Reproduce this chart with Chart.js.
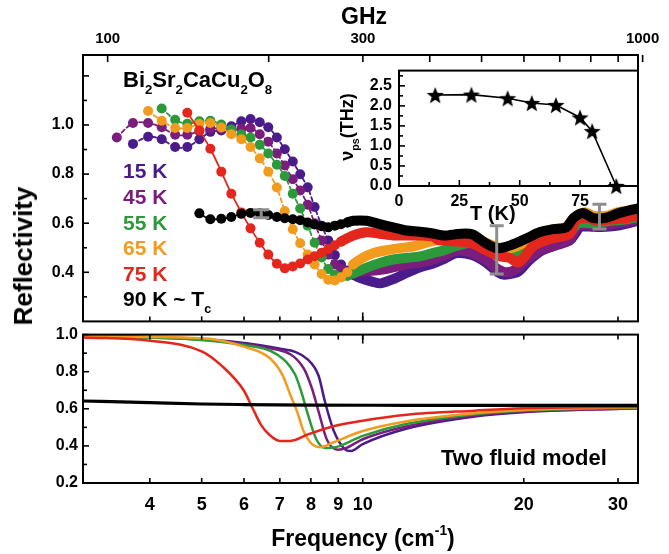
<!DOCTYPE html>
<html lang="en">
<head>
<meta charset="UTF-8">
<title>Bi2Sr2CaCu2O8 THz reflectivity</title>
<script src="https://cdn.jsdelivr.net/npm/chart.js"></script>
<style>
    body { margin: 0; background: #fff; }
    #fig { position: relative; width: 669px; height: 554px; overflow: hidden;
           font-family: 'Liberation Sans', Arial, sans-serif; font-weight: bold; color: #000; }
    #fig canvas { position: absolute; }
    .t { position: absolute; white-space: nowrap; line-height: 1; }
    .sb { font-size: 60%; position: relative; top: 0.55em; }
    .sp { font-size: 60%; position: relative; top: -0.8em; }
</style>
</head>
<body>
<div id="fig">
    <canvas id="top" width="669" height="340" style="left:0;top:0"></canvas>
    <canvas id="bottom" width="669" height="234" style="left:0;top:320px"></canvas>
    <canvas id="inset" width="339" height="161" style="left:330px;top:54px"></canvas>

    <div class="t" style="left:364px;top:5px;font-size:23px;transform:translateX(-50%)">GHz</div>
    <div id="ghzLabels"></div>
    <div class="t" style="left:23px;top:256px;font-size:26px;transform:translate(-50%,-50%) rotate(-90deg)">Reflectivity</div>
    <div class="t" style="left:123px;top:69px;font-size:22px">Bi<span class="sb">2</span>Sr<span class="sb">2</span>CaCu<span class="sb">2</span>O<span class="sb">8</span></div>
    <div class="t" style="left:123px;top:160px;font-size:21px;color:#4a1b8a">15 K</div>
    <div class="t" style="left:123px;top:186px;font-size:21px;color:#7b1d7d">45 K</div>
    <div class="t" style="left:123px;top:212px;font-size:21px;color:#2c9a3a">55 K</div>
    <div class="t" style="left:123px;top:237px;font-size:21px;color:#f39b1d">65 K</div>
    <div class="t" style="left:123px;top:263px;font-size:21px;color:#e3271c">75 K</div>
    <div class="t" style="left:123px;top:288px;font-size:21px">90 K ~ T<span class="sb">c</span></div>
    <div class="t" style="left:347px;top:127px;font-size:18px;transform:translate(-50%,-50%) rotate(-90deg)">&nu;<span class="sb">ps</span>(THz)</div>
    <div class="t" style="left:470px;top:203px;font-size:20px">T (K)</div>
    <div class="t" style="left:441px;top:447px;font-size:22px">Two fluid model</div>
    <div class="t" style="left:363px;top:527px;font-size:23px;transform:translateX(-50%)">Frequency (cm<span class="sp">-1</span>)</div>
</div>

<script>
    // ---- measured reflectivity (frequency in cm^-1) ----
    const f15 = [3.72, 3.97, 4.21, 4.46, 4.70, 4.95, 5.19, 5.44, 5.68, 5.93, 6.17, 6.42, 6.66, 6.91, 7.15, 7.40, 7.64, 7.89, 8.13, 8.38, 8.62, 8.87, 9.11, 9.36, 9.60,
                 9.87, 10.45, 10.8, 11.4, 12.1, 12.8, 13.5, 14.2, 15.0, 16.0, 17.0, 17.9, 18.4, 19.1, 19.6, 20.5, 21.7, 23.0, 24.4, 25.0, 25.5, 27.0, 28.5, 30.0, 31.5, 32.7];
    const r15 = [0.923, 0.952, 0.942, 0.910, 0.910, 0.942, 0.972, 0.978, 0.995, 1.015, 1.024, 1.011, 0.991, 0.949, 0.901, 0.851, 0.799, 0.746, 0.666, 0.59, 0.53, 0.47, 0.432, 0.407, 0.39,
                 0.378, 0.361, 0.355, 0.372, 0.398, 0.42, 0.435, 0.455, 0.478, 0.47, 0.44, 0.40, 0.39, 0.395, 0.405, 0.45, 0.49, 0.51, 0.53, 0.56, 0.585, 0.585, 0.585, 0.59, 0.60, 0.61];

    const f45 = [3.47, 3.72, 3.97, 4.21, 4.46, 4.70, 4.95, 5.19, 5.44, 5.68, 5.93, 6.17, 6.42, 6.66, 6.91, 7.15, 7.40, 7.64, 7.89, 8.13, 8.38, 8.62, 8.87, 9.11, 9.36, 9.60,
                 10.2, 10.8, 11.4, 12.1, 12.8, 13.5, 14.2, 15.0, 16.0, 17.0, 17.9, 18.5, 19.3, 20.2, 21.5, 23.0, 24.4, 25.3, 27.0, 29.0, 31.0, 32.7];
    const r45 = [0.949, 1.008, 1.008, 0.991, 0.960, 0.960, 0.975, 0.985, 0.985, 0.980, 0.984, 0.988, 0.962, 0.932, 0.884, 0.835, 0.779, 0.733, 0.675, 0.60, 0.53, 0.472, 0.432, 0.413, 0.40, 0.40,
                 0.405, 0.41, 0.42, 0.432, 0.44, 0.45, 0.468, 0.488, 0.48, 0.45, 0.412, 0.40, 0.41, 0.45, 0.49, 0.512, 0.535, 0.59, 0.59, 0.595, 0.605, 0.615];

    const f55 = [4.21, 4.46, 4.70, 4.95, 5.19, 5.44, 5.68, 5.93, 6.17, 6.42, 6.66, 6.91, 7.15, 7.40, 7.64, 7.89, 8.13, 8.38, 8.62, 8.87, 9.11, 9.36, 9.60,
                 10.2, 10.8, 11.4, 12.1, 12.8, 13.5, 14.2, 15.0, 16.0, 17.0, 18.0, 19.0, 20.0, 21.5, 23.0, 24.4, 25.3, 27.0, 29.0, 31.0, 32.7];
    const r55 = [1.067, 1.021, 1.005, 1.015, 1.017, 1.002, 0.982, 0.962, 0.949, 0.919, 0.884, 0.838, 0.792, 0.72, 0.66, 0.59, 0.52, 0.46, 0.413, 0.39, 0.38, 0.385, 0.395,
                 0.42, 0.439, 0.452, 0.459, 0.465, 0.478, 0.49, 0.508, 0.52, 0.50, 0.475, 0.465, 0.48, 0.53, 0.55, 0.565, 0.60, 0.60, 0.61, 0.615, 0.625];

    const f65 = [3.97, 4.21, 4.46, 4.70, 4.95, 5.19, 5.44, 5.68, 5.93, 6.17, 6.42, 6.66, 6.91, 7.15, 7.40, 7.64, 7.89, 8.13, 8.38, 8.62, 8.87, 9.11, 9.36, 9.60,
                 10.0, 10.45, 11.07, 11.7, 12.4, 13.0, 13.7, 14.5, 15.2, 16.0, 17.0, 18.0, 19.0, 20.0, 21.4, 22.7, 24.0, 24.8, 26.0, 27.0, 28.5, 30.0, 32.0, 32.7];
    const r65 = [1.057, 1.017, 0.988, 0.988, 1.004, 1.008, 0.99, 0.962, 0.942, 0.91, 0.864, 0.81, 0.745, 0.65, 0.575, 0.518, 0.472, 0.432, 0.393, 0.37, 0.367, 0.38, 0.40, 0.432,
                 0.459, 0.478, 0.49, 0.498, 0.505, 0.518, 0.53, 0.54, 0.545, 0.54, 0.52, 0.50, 0.50, 0.52, 0.56, 0.575, 0.585, 0.62, 0.645, 0.63, 0.63, 0.645, 0.655, 0.66];

    const f75 = [4.70, 4.95, 5.19, 5.44, 5.68, 5.93, 6.17, 6.42, 6.66, 6.91, 7.15, 7.40, 7.64, 7.89, 8.13, 8.38, 8.62, 8.87, 9.11,
                 9.6, 10.16, 10.76, 11.4, 12.07, 12.78, 13.53, 13.9, 15.18, 16.1, 17.0, 18.0, 18.8, 19.5, 20.0, 20.8, 22.0, 23.3, 24.4, 25.0, 26.2, 27.3, 29.4, 31.0, 32.7];
    const r75 = [1.05, 0.978, 0.903, 0.81, 0.72, 0.644, 0.579, 0.52, 0.472, 0.435, 0.416, 0.424, 0.436, 0.452, 0.465, 0.48, 0.495, 0.51, 0.525,
                 0.55, 0.563, 0.557, 0.55, 0.55, 0.55, 0.545, 0.53, 0.525, 0.515, 0.49, 0.465, 0.459, 0.44, 0.46, 0.505, 0.53, 0.544, 0.557, 0.61, 0.622, 0.61, 0.616, 0.62, 0.63];

    const f90 = [4.95, 5.19, 5.44, 5.68, 5.93, 6.17, 6.42, 6.66, 6.91, 7.15, 7.40, 7.64, 7.89, 8.13, 8.38, 8.62, 8.87, 9.11, 9.36,
                 9.59, 10.16, 10.76, 11.4, 12.07, 12.78, 13.53, 14.2, 15.2, 16.0, 17.0, 17.8, 18.6, 19.4, 20.2, 21.4, 22.7, 24.0, 24.8, 25.8, 26.9, 28.5, 30.2, 31.9, 32.7];
    const r90 = [0.64, 0.616, 0.618, 0.625, 0.638, 0.642, 0.64, 0.633, 0.625, 0.62, 0.616, 0.612, 0.603, 0.595, 0.588, 0.583, 0.59, 0.596, 0.603,
                 0.61, 0.61, 0.596, 0.583, 0.57, 0.565, 0.558, 0.55, 0.557, 0.555, 0.518, 0.498, 0.505, 0.52, 0.537, 0.563, 0.576, 0.583, 0.622, 0.642, 0.622, 0.622, 0.642, 0.655, 0.66];

    // error bars on the measured data
    const errF  = [6.46, 17.8, 27.7];
    const errLo = [0.622, 0.393, 0.576];
    const errHi = [0.655, 0.590, 0.677];

    // ---- two fluid model ----
    const mF15 = [3.0, 6.94, 7.9, 8.27, 8.5, 8.83, 9.24, 9.5, 10.0, 12.1, 16.2, 19.9, 32.7];
    const mR15 = [1.0, 0.926, 0.865, 0.778, 0.638, 0.48, 0.384, 0.372, 0.41, 0.494, 0.559, 0.582, 0.603];
    const mF45 = [3.0, 6.94, 7.75, 8.04, 8.27, 8.58, 8.99, 9.32, 10.0, 12.1, 16.2, 19.9, 32.7];
    const mR45 = [0.995, 0.918, 0.82, 0.708, 0.585, 0.43, 0.379, 0.389, 0.436, 0.506, 0.564, 0.585, 0.603];
    const mF55 = [3.0, 6.0, 6.94, 7.47, 7.68, 7.9, 8.19, 8.5, 8.9, 10.0, 12.1, 16.2, 19.9, 32.7];
    const mR55 = [0.995, 0.944, 0.89, 0.786, 0.69, 0.568, 0.436, 0.389, 0.393, 0.454, 0.519, 0.571, 0.59, 0.606];
    const mF65 = [3.0, 5.0, 6.0, 6.7, 7.07, 7.33, 7.54, 7.75, 8.04, 8.35, 8.83, 10.0, 12.1, 16.2, 19.9, 25.3, 32.7];
    const mR65 = [0.99, 0.98, 0.935, 0.874, 0.786, 0.672, 0.585, 0.48, 0.41, 0.393, 0.42, 0.48, 0.533, 0.576, 0.594, 0.603, 0.608];
    const mF75 = [3.0, 4.0, 5.0, 5.46, 5.99, 6.21, 6.45, 6.69, 7.0, 7.33, 7.9, 8.82, 10.0, 12.1, 16.2, 19.9, 25.3, 32.7];
    const mR75 = [0.985, 0.967, 0.91, 0.83, 0.70, 0.61, 0.515, 0.46, 0.427, 0.427, 0.462, 0.506, 0.536, 0.568, 0.59, 0.603, 0.608, 0.611];
    const mF90 = [3.0, 4.0, 5.0, 6.0, 8.0, 12.0, 32.7];
    const mR90 = [0.642, 0.633, 0.626, 0.623, 0.62, 0.619, 0.618];

    // ---- inset: pseudogap/superfluid frequency vs temperature ----
    const insetT  = [15, 30, 45, 55, 65, 75, 80, 90];
    const insetNu = [2.27, 2.28, 2.19, 2.07, 2.02, 1.71, 1.37, 0.0];

    // ---- axes ----
    const X_MIN = 3.0, X_MAX = 32.7;
    const GHZ_PER_CM = 29.979;
    const freqTicks = [4, 5, 6, 7, 8, 9, 10, 20, 30];
    const ghzTicks = [100, 200, 300, 400, 500, 600, 700, 800, 900, 1000];
    const ghzLabels = [100, 300, 1000];
    const reflTopLabels = [0.4, 0.6, 0.8, 1.0];
    const reflTopMinor = [0.3, 0.5, 0.7, 0.9, 1.1];
    const reflTopMajor = [0.4, 0.6, 0.8, 1.0, 1.2];
    const reflBotLabels = [0.2, 0.4, 0.6, 0.8, 1.0];
    const reflBotMinor = [0.3, 0.5, 0.7, 0.9];
    const insetTLabels = [0, 25, 50, 75];
    const insetTMinor = [12.5, 37.5, 62.5, 87.5];
    const insetNuLabels = [0, 0.5, 1.0, 1.5, 2.0, 2.5];
    const insetNuMinor = [0.25, 0.75, 1.25, 1.75, 2.25, 2.75];

    const C15 = '#4a1b8a', C45 = '#7b1d7d', C55 = '#2c9a3a', C65 = '#f39b1d', C75 = '#e3271c', C90 = '#000000';
    const FONT = "'Liberation Sans', Arial, sans-serif";

    function pts(f, r) { return f.map((v, i) => ({ x: v, y: r[i] })); }

    // tick marks drawn inward, plus the frame
    const innerTicks = {
        id: 'innerTicks',
        afterDraw(chart, args, opts) {
            const ctx = chart.ctx, a = chart.chartArea;
            ctx.save();
            ctx.strokeStyle = '#000';
            ctx.lineWidth = 1.6;
            (opts.marks || []).forEach(m => {
                const s = chart.scales[m.scale];
                m.values.forEach(v => {
                    const p = s.getPixelForValue(v);
                    ctx.beginPath();
                    if (m.edge === 'left') { ctx.moveTo(a.left, p); ctx.lineTo(a.left + m.len, p); }
                    if (m.edge === 'bottom') { ctx.moveTo(p, a.bottom); ctx.lineTo(p, a.bottom - m.len); }
                    if (m.edge === 'top') { ctx.moveTo(p, a.top); ctx.lineTo(p, a.top + m.len); }
                    ctx.stroke();
                });
            });
            ctx.lineWidth = 2;
            ctx.strokeRect(a.left, a.top, a.right - a.left, a.bottom - a.top);
            ctx.restore();
        }
    };

    const errorBars = {
        id: 'errorBars',
        afterDatasetsDraw(chart) {
            const ctx = chart.ctx, x = chart.scales.x, y = chart.scales.y;
            ctx.save();
            ctx.strokeStyle = '#8e8e8e';
            ctx.lineWidth = 3;
            errF.forEach((f, i) => {
                const px = x.getPixelForValue(f);
                const lo = y.getPixelForValue(errLo[i]), hi = y.getPixelForValue(errHi[i]);
                const cap = i === 0 ? 8 : 7;
                ctx.beginPath();
                ctx.moveTo(px, lo); ctx.lineTo(px, hi);
                ctx.moveTo(px - cap, lo); ctx.lineTo(px + cap, lo);
                ctx.moveTo(px - cap, hi); ctx.lineTo(px + cap, hi);
                ctx.stroke();
            });
            ctx.restore();
        }
    };

    const tickFont = size => ({ family: FONT, size: size, weight: 'bold' });
    const noGrid = { display: false, drawTicks: false };

    // ---- top panel: measured data ----
    const topSeries = [
        { f: f90, r: r90, color: C90, markEnd: 9.4, dash: [], order: 0 },
        { f: f75, r: r75, color: C75, markEnd: 9.2, dash: [], order: 1 },
        { f: f65, r: r65, color: C65, markEnd: 9.7, dash: [4, 3], order: 2 },
        { f: f55, r: r55, color: C55, markEnd: 9.7, dash: [4, 3], order: 3 },
        { f: f45, r: r45, color: C45, markEnd: 9.7, dash: [4, 3], order: 4 },
        { f: f15, r: r15, color: C15, markEnd: 9.7, dash: [4, 3], order: 5 }
    ];

    const topChart = new Chart(document.getElementById('top'), {
        type: 'line',
        data: {
            datasets: topSeries.map(s => ({
                data: pts(s.f, s.r),
                order: s.order,
                borderColor: s.color,
                backgroundColor: s.color,
                borderWidth: 1.8,
                borderDash: s.dash,
                borderCapStyle: 'round',
                borderJoinStyle: 'round',
                tension: 0.3,
                pointRadius: ctx => (s.f[ctx.dataIndex] <= s.markEnd ? 5 : 0),
                pointBorderWidth: 0,
                segment: {
                    borderWidth: ctx => (s.f[ctx.p1DataIndex] > s.markEnd ? 10 : 1.8),
                    borderDash: ctx => (s.f[ctx.p1DataIndex] > s.markEnd ? [] : s.dash)
                }
            }))
        },
        options: {
            responsive: false,
            animation: false,
            events: [],
            layout: { padding: { top: 55, right: 31, bottom: 10, left: 0 } },
            plugins: {
                legend: { display: false },
                tooltip: { enabled: false },
                innerTicks: {
                    marks: [
                        { scale: 'y', edge: 'left', values: reflTopMajor, len: 6 },
                        { scale: 'y', edge: 'left', values: reflTopMinor, len: 4 },
                        { scale: 'x', edge: 'bottom', values: freqTicks, len: 5 },
                        { scale: 'x', edge: 'bottom', values: [10], len: 9 },
                        { scale: 'x', edge: 'top', values: ghzTicks.map(g => g / GHZ_PER_CM), len: 7 }
                    ]
                }
            },
            scales: {
                x: { type: 'logarithmic', min: X_MIN, max: X_MAX, display: false },
                y: {
                    min: 0.2, max: 1.285,
                    grid: noGrid, border: { display: false },
                    afterFit: s => { s.width = 83; },
                    afterBuildTicks: s => { s.ticks = reflTopLabels.map(v => ({ value: v })); },
                    ticks: { padding: 9, color: '#000', font: tickFont(16), callback: v => v.toFixed(1) }
                }
            }
        },
        plugins: [innerTicks, errorBars]
    });

    // GHz labels on the top axis, placed through the frequency scale
    const ghzBox = document.getElementById('ghzLabels');
    ghzLabels.forEach(g => {
        const d = document.createElement('div');
        d.className = 't';
        d.style.cssText = 'top:30px;font-size:15px;transform:translateX(-50%);left:' +
            topChart.scales.x.getPixelForValue(g / GHZ_PER_CM) + 'px';
        d.textContent = g;
        ghzBox.appendChild(d);
    });

    // ---- bottom panel: two fluid model ----
    const modelSeries = [
        { f: mF90, r: mR90, color: C90, width: 3.2, order: 0 },
        { f: mF75, r: mR75, color: C75, width: 2.5, order: 1 },
        { f: mF65, r: mR65, color: C65, width: 2.5, order: 2 },
        { f: mF55, r: mR55, color: C55, width: 2.5, order: 3 },
        { f: mF45, r: mR45, color: C45, width: 2.5, order: 4 },
        { f: mF15, r: mR15, color: C15, width: 2.5, order: 5 }
    ];

    new Chart(document.getElementById('bottom'), {
        type: 'line',
        data: {
            datasets: modelSeries.map(s => ({
                data: pts(s.f, s.r),
                order: s.order,
                borderColor: s.color,
                borderWidth: s.width,
                pointRadius: 0,
                cubicInterpolationMode: 'monotone'
            }))
        },
        options: {
            responsive: false,
            animation: false,
            events: [],
            layout: { padding: { top: 10, right: 31, bottom: 0, left: 0 } },
            plugins: {
                legend: { display: false },
                tooltip: { enabled: false },
                innerTicks: {
                    marks: [
                        { scale: 'y', edge: 'left', values: reflBotLabels, len: 6 },
                        { scale: 'y', edge: 'left', values: reflBotMinor, len: 4 },
                        { scale: 'x', edge: 'bottom', values: freqTicks, len: 5 },
                        { scale: 'x', edge: 'top', values: freqTicks, len: 5 },
                        { scale: 'x', edge: 'top', values: [10], len: 9 }
                    ]
                }
            },
            scales: {
                x: {
                    type: 'logarithmic', min: X_MIN, max: X_MAX,
                    grid: noGrid, border: { display: false },
                    afterFit: s => { s.height = 71; },
                    afterBuildTicks: s => { s.ticks = freqTicks.map(v => ({ value: v })); },
                    ticks: { autoSkip: false, maxRotation: 0, padding: 11, color: '#000', font: tickFont(18), callback: v => String(v) }
                },
                y: {
                    min: 0.2, max: 1.0,
                    grid: noGrid, border: { display: false },
                    afterFit: s => { s.width = 83; },
                    afterBuildTicks: s => { s.ticks = reflBotLabels.map(v => ({ value: v })); },
                    ticks: { padding: 5, color: '#000', font: tickFont(16), callback: v => v.toFixed(1) }
                }
            }
        },
        plugins: [innerTicks]
    });

    // ---- inset ----
    function starImage(r) {
        const c = document.createElement('canvas');
        const s = Math.ceil(r * 2) + 2;
        c.width = c.height = s;
        const g = c.getContext('2d');
        g.translate(s / 2, s / 2 + r * 0.1);
        g.beginPath();
        for (let k = 0; k < 10; k++) {
            const ang = -Math.PI / 2 + k * Math.PI / 5;
            const rr = k % 2 ? r * 0.42 : r;
            g.lineTo(rr * Math.cos(ang), rr * Math.sin(ang));
        }
        g.closePath();
        g.fillStyle = '#000';
        g.fill();
        return c;
    }

    new Chart(document.getElementById('inset'), {
        type: 'line',
        data: {
            datasets: [{
                data: pts(insetT, insetNu),
                borderColor: '#000',
                borderWidth: 1.6,
                pointStyle: starImage(9),
                pointRadius: 8,
                clip: false
            }]
        },
        options: {
            responsive: false,
            animation: false,
            events: [],
            layout: { padding: { top: 10, right: 31, bottom: 0, left: 0 } },
            plugins: {
                legend: { display: false },
                tooltip: { enabled: false },
                innerTicks: {
                    marks: [
                        { scale: 'y', edge: 'left', values: insetNuLabels, len: 6 },
                        { scale: 'y', edge: 'left', values: insetNuMinor, len: 4 },
                        { scale: 'x', edge: 'bottom', values: insetTLabels, len: 6 },
                        { scale: 'x', edge: 'bottom', values: insetTMinor, len: 4 }
                    ]
                }
            },
            scales: {
                x: {
                    type: 'linear', min: 0, max: 99,
                    grid: noGrid, border: { display: false },
                    afterFit: s => { s.height = 29; },
                    afterBuildTicks: s => { s.ticks = insetTLabels.map(v => ({ value: v })); },
                    ticks: { autoSkip: false, maxRotation: 0, padding: 6, color: '#000', font: tickFont(16), callback: v => String(v) }
                },
                y: {
                    min: 0, max: 2.88,
                    grid: noGrid, border: { display: false },
                    afterFit: s => { s.width = 69; },
                    afterBuildTicks: s => { s.ticks = insetNuLabels.map(v => ({ value: v })); },
                    ticks: { padding: 7, color: '#000', font: tickFont(16), callback: v => v.toFixed(1) }
                }
            }
        },
        plugins: [innerTicks]
    });
</script>
</body>
</html>
